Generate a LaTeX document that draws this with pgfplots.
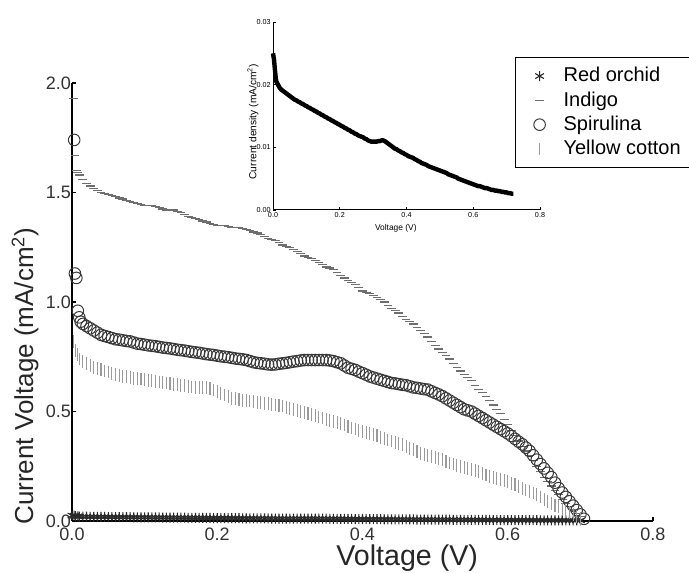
\documentclass[border=0pt]{standalone}
\usepackage{pgfplots}
\pgfplotsset{compat=1.18}
\usepackage{pgfplotstable}
\usepackage{fontspec}
\setmainfont{Liberation Sans}

\definecolor{indigoc}{HTML}{6E6E6E}
\definecolor{yellowc}{HTML}{9A9A9A}
\definecolor{spirc}{HTML}{383838}
\definecolor{redc}{HTML}{2A2A2A}

\pgfplotstableread{
v I
0.000 0.0250
0.003 0.0240
0.005 0.0228
0.008 0.0212
0.010 0.0205
0.015 0.0200
0.020 0.0195
0.025 0.0192
0.030 0.0190
0.035 0.0188
0.040 0.0186
0.045 0.0184
0.050 0.0182
0.055 0.0180
0.060 0.0178
0.065 0.0176
0.070 0.0175
0.075 0.0173
0.080 0.0172
0.085 0.0170
0.090 0.0169
0.095 0.0167
0.100 0.0166
0.105 0.0164
0.110 0.0163
0.115 0.0161
0.120 0.0160
0.125 0.0158
0.130 0.0157
0.135 0.0155
0.140 0.0154
0.145 0.0152
0.150 0.0151
0.155 0.0149
0.160 0.0148
0.165 0.0146
0.170 0.0145
0.175 0.0143
0.180 0.0142
0.185 0.0140
0.190 0.0139
0.195 0.0137
0.200 0.0136
0.205 0.0134
0.210 0.0133
0.215 0.0131
0.220 0.0130
0.225 0.0128
0.230 0.0127
0.235 0.0125
0.240 0.0124
0.245 0.0122
0.250 0.0121
0.255 0.0119
0.260 0.0118
0.265 0.0117
0.270 0.0116
0.275 0.0114
0.280 0.0113
0.285 0.0111
0.290 0.0110
0.295 0.0109
0.300 0.0109
0.305 0.0109
0.310 0.0109
0.315 0.0110
0.320 0.0110
0.325 0.0111
0.330 0.0111
0.335 0.0110
0.340 0.0108
0.345 0.0106
0.350 0.0104
0.355 0.0102
0.360 0.0100
0.365 0.0098
0.370 0.0097
0.375 0.0095
0.380 0.0094
0.385 0.0092
0.390 0.0091
0.395 0.0089
0.400 0.0088
0.405 0.0086
0.410 0.0085
0.415 0.0084
0.420 0.0083
0.425 0.0081
0.430 0.0080
0.435 0.0078
0.440 0.0077
0.445 0.0075
0.450 0.0074
0.455 0.0073
0.460 0.0072
0.465 0.0070
0.470 0.0069
0.475 0.0068
0.480 0.0067
0.485 0.0066
0.490 0.0065
0.495 0.0064
0.500 0.0063
0.505 0.0062
0.510 0.0061
0.515 0.0060
0.520 0.0059
0.525 0.0057
0.530 0.0056
0.535 0.0055
0.540 0.0054
0.545 0.0053
0.550 0.0052
0.555 0.0050
0.560 0.0049
0.565 0.0048
0.570 0.0047
0.575 0.0046
0.580 0.0045
0.585 0.0044
0.590 0.0043
0.595 0.0042
0.600 0.0041
0.605 0.0040
0.610 0.0039
0.615 0.0038
0.620 0.0038
0.625 0.0037
0.630 0.0036
0.635 0.0035
0.640 0.0035
0.645 0.0034
0.650 0.0033
0.655 0.0032
0.660 0.0032
0.665 0.0031
0.670 0.0031
0.675 0.0030
0.680 0.0030
0.685 0.0029
0.690 0.0029
0.695 0.0028
0.700 0.0028
0.705 0.0027
0.710 0.0027
0.715 0.0026
0.720 0.0026
}\redorchid

\pgfplotstableread{
v I
0.002 1.93
0.004 1.67
0.006 1.60
0.008 1.59
0.010 1.58
0.015 1.56
0.020 1.54
0.025 1.53
0.030 1.52
0.035 1.51
0.040 1.50
0.045 1.495
0.050 1.49
0.055 1.485
0.060 1.48
0.065 1.475
0.070 1.47
0.075 1.465
0.080 1.46
0.085 1.455
0.090 1.45
0.095 1.445
0.100 1.44
0.105 1.44
0.110 1.44
0.115 1.435
0.120 1.43
0.125 1.425
0.130 1.42
0.135 1.42
0.140 1.42
0.145 1.415
0.150 1.41
0.155 1.40
0.160 1.39
0.165 1.385
0.170 1.38
0.175 1.375
0.180 1.37
0.185 1.365
0.190 1.36
0.195 1.355
0.200 1.35
0.205 1.35
0.210 1.35
0.215 1.345
0.220 1.34
0.225 1.34
0.230 1.34
0.235 1.335
0.240 1.33
0.245 1.325
0.250 1.32
0.255 1.315
0.260 1.31
0.265 1.30
0.270 1.29
0.275 1.285
0.280 1.28
0.285 1.27
0.290 1.26
0.295 1.255
0.300 1.25
0.305 1.24
0.310 1.23
0.315 1.22
0.320 1.21
0.325 1.205
0.330 1.20
0.335 1.19
0.340 1.18
0.345 1.17
0.350 1.16
0.355 1.155
0.360 1.15
0.365 1.135
0.370 1.12
0.375 1.11
0.380 1.10
0.385 1.09
0.390 1.08
0.395 1.065
0.400 1.05
0.405 1.045
0.410 1.04
0.415 1.03
0.420 1.02
0.425 1.01
0.430 1.00
0.435 0.985
0.440 0.97
0.445 0.96
0.450 0.95
0.455 0.935
0.460 0.92
0.465 0.91
0.470 0.90
0.475 0.885
0.480 0.87
0.485 0.855
0.490 0.84
0.495 0.82
0.500 0.80
0.505 0.785
0.510 0.77
0.515 0.755
0.520 0.74
0.525 0.72
0.530 0.70
0.535 0.685
0.540 0.67
0.545 0.655
0.550 0.64
0.555 0.62
0.560 0.60
0.565 0.585
0.570 0.57
0.575 0.55
0.580 0.53
0.585 0.51
0.590 0.49
0.595 0.465
0.600 0.44
0.605 0.415
0.610 0.39
0.615 0.365
0.620 0.34
0.625 0.32
0.630 0.30
0.635 0.275
0.640 0.25
0.645 0.225
0.650 0.20
0.655 0.18
0.660 0.16
0.665 0.14
0.670 0.12
0.675 0.10
0.680 0.08
0.685 0.065
0.690 0.05
0.695 0.035
0.700 0.02
}\indigo

\pgfplotstableread{
v I
0.003 1.74
0.004 1.13
0.006 1.11
0.008 0.96
0.010 0.93
0.012 0.91
0.015 0.90
0.020 0.89
0.025 0.88
0.030 0.87
0.035 0.86
0.040 0.85
0.045 0.845
0.050 0.84
0.055 0.835
0.060 0.83
0.065 0.828
0.070 0.825
0.075 0.822
0.080 0.82
0.085 0.815
0.090 0.81
0.095 0.808
0.100 0.805
0.105 0.802
0.110 0.80
0.115 0.798
0.120 0.795
0.125 0.792
0.130 0.79
0.135 0.788
0.140 0.785
0.145 0.782
0.150 0.78
0.155 0.778
0.160 0.775
0.165 0.772
0.170 0.77
0.175 0.768
0.180 0.765
0.185 0.762
0.190 0.76
0.195 0.758
0.200 0.755
0.205 0.752
0.210 0.75
0.215 0.748
0.220 0.745
0.225 0.742
0.230 0.74
0.235 0.738
0.240 0.735
0.245 0.73
0.250 0.725
0.255 0.722
0.260 0.72
0.265 0.718
0.270 0.715
0.275 0.714
0.280 0.715
0.285 0.718
0.290 0.72
0.295 0.722
0.300 0.725
0.305 0.728
0.310 0.73
0.315 0.733
0.320 0.735
0.325 0.735
0.330 0.735
0.335 0.735
0.340 0.735
0.345 0.735
0.350 0.735
0.355 0.733
0.360 0.73
0.365 0.725
0.370 0.72
0.375 0.71
0.380 0.70
0.385 0.695
0.390 0.69
0.395 0.682
0.400 0.675
0.405 0.668
0.410 0.66
0.415 0.655
0.420 0.65
0.425 0.645
0.430 0.64
0.435 0.635
0.440 0.63
0.445 0.628
0.450 0.625
0.455 0.622
0.460 0.62
0.465 0.615
0.470 0.61
0.475 0.608
0.480 0.605
0.485 0.602
0.490 0.60
0.495 0.592
0.500 0.585
0.505 0.578
0.510 0.57
0.515 0.56
0.520 0.55
0.525 0.54
0.530 0.53
0.535 0.52
0.540 0.51
0.545 0.505
0.550 0.50
0.555 0.49
0.560 0.48
0.565 0.47
0.570 0.46
0.575 0.45
0.580 0.44
0.585 0.43
0.590 0.42
0.595 0.41
0.600 0.40
0.605 0.388
0.610 0.375
0.615 0.362
0.620 0.35
0.625 0.335
0.630 0.32
0.635 0.30
0.640 0.28
0.645 0.26
0.650 0.24
0.655 0.22
0.660 0.20
0.665 0.175
0.670 0.15
0.675 0.13
0.680 0.11
0.685 0.09
0.690 0.07
0.695 0.05
0.700 0.03
0.705 0.01
}\spirulina

\pgfplotstableread{
v I
0.002 0.82
0.005 0.78
0.008 0.76
0.010 0.74
0.015 0.73
0.020 0.72
0.025 0.71
0.030 0.70
0.035 0.695
0.040 0.69
0.045 0.685
0.050 0.68
0.055 0.675
0.060 0.67
0.065 0.665
0.070 0.66
0.075 0.658
0.080 0.655
0.085 0.652
0.090 0.65
0.095 0.648
0.100 0.645
0.105 0.642
0.110 0.64
0.115 0.638
0.120 0.635
0.125 0.632
0.130 0.63
0.135 0.628
0.140 0.625
0.145 0.622
0.150 0.62
0.155 0.618
0.160 0.615
0.165 0.612
0.170 0.61
0.175 0.61
0.180 0.61
0.185 0.608
0.190 0.605
0.195 0.598
0.200 0.59
0.205 0.582
0.210 0.575
0.215 0.568
0.220 0.56
0.225 0.558
0.230 0.555
0.235 0.552
0.240 0.55
0.245 0.548
0.250 0.545
0.255 0.542
0.260 0.54
0.265 0.538
0.270 0.535
0.275 0.532
0.280 0.53
0.285 0.528
0.290 0.525
0.295 0.52
0.300 0.515
0.305 0.51
0.310 0.505
0.315 0.50
0.320 0.495
0.325 0.49
0.330 0.485
0.335 0.48
0.340 0.475
0.345 0.47
0.350 0.465
0.355 0.46
0.360 0.455
0.365 0.45
0.370 0.445
0.375 0.438
0.380 0.43
0.385 0.425
0.390 0.42
0.395 0.415
0.400 0.41
0.405 0.405
0.410 0.40
0.415 0.395
0.420 0.39
0.425 0.382
0.430 0.375
0.435 0.37
0.440 0.365
0.445 0.36
0.450 0.355
0.455 0.348
0.460 0.34
0.465 0.332
0.470 0.325
0.475 0.318
0.480 0.31
0.485 0.305
0.490 0.30
0.495 0.295
0.500 0.29
0.505 0.285
0.510 0.28
0.515 0.272
0.520 0.265
0.525 0.26
0.530 0.255
0.535 0.25
0.540 0.245
0.545 0.24
0.550 0.235
0.555 0.23
0.560 0.225
0.565 0.218
0.570 0.21
0.575 0.205
0.580 0.20
0.585 0.195
0.590 0.19
0.595 0.185
0.600 0.18
0.605 0.172
0.610 0.165
0.615 0.158
0.620 0.15
0.625 0.142
0.630 0.135
0.635 0.128
0.640 0.12
0.645 0.11
0.650 0.10
0.655 0.09
0.660 0.08
0.665 0.072
0.670 0.065
0.675 0.055
0.680 0.045
0.685 0.038
0.690 0.03
0.695 0.02
0.700 0.01
}\yellowcotton

\begin{document}
\begin{tikzpicture}
\path[use as bounding box] (-36pt,-25.5pt) rectangle (308.5pt,260.5pt);
\begin{axis}[
  at={(0pt,0pt)}, anchor=south west,
  scale only axis, width=290.5pt, height=219pt,
  xmin=0, xmax=0.8, ymin=0, ymax=2.0,
  axis x line=bottom, axis y line=left,
  axis line style={-, line width=0.8pt},
  xtick={0,0.2,0.4,0.6,0.8}, ytick={0,0.5,1.0,1.5,2.0},
  tick align=inside, major tick length=2pt,
  tick style={line width=0.6pt, black},
  /pgf/number format/assume math mode=true,
  tick label style={font=\fontsize{9}{10}\selectfont, text=black!80},
  xticklabel style={/pgf/number format/.cd, fixed, fixed zerofill, precision=1},
  yticklabel style={xshift=3pt, /pgf/number format/.cd, fixed, fixed zerofill, precision=1},
  xlabel={Voltage (V)},
  ylabel={Current Voltage (mA/cm\textsuperscript{2})},
  every axis x label/.style={at={(rel axis cs:0.577,0)}, anchor=center, yshift=-18.5pt,
    font=\fontsize{14.3}{16}\selectfont, text=black!85},
  every axis y label/.style={at={(rel axis cs:0,0.331)}, xshift=-23.5pt, rotate=90, anchor=center,
    font=\fontsize{13}{15}\selectfont, text=black!85},
  legend style={at={(rel axis cs:0.7625,1.06)}, anchor=north west, draw=black, line width=0.6pt,
    font=\fontsize{10}{11.5}\selectfont, row sep=-0.6pt, inner xsep=3pt, inner ysep=3pt},
  legend cell align=left,
  myleg/.style={legend image code/.code={\path[draw=none, fill=none] (0pt,0pt) -- (19pt,0pt); \draw[##1, only marks] plot coordinates {(9pt,0pt)};}},
  clip=false,
]
\addplot[only marks, myleg, mark=asterisk, mark size=2.5pt, redc, mark options={line width=0.55pt},
  restrict x to domain=0:0.70] table[x=v,y=I] {\redorchid};
\addlegendentry{Red orchid}
\addplot[only marks, myleg, mark=-, mark size=2.2pt, indigoc, mark options={line width=0.6pt}] table[x=v,y=I] {\indigo};
\addlegendentry{Indigo}
\addplot[only marks, myleg, mark=o, mark size=2.9pt, spirc, mark options={line width=0.5pt}] table[x=v,y=I] {\spirulina};
\addlegendentry{Spirulina}
\addplot[only marks, myleg, mark=|, mark size=3.2pt, yellowc, mark options={line width=0.55pt}] table[x=v,y=I] {\yellowcotton};
\addlegendentry{Yellow cotton\hspace{6pt}}
\end{axis}

\begin{axis}[
  at={(100.5pt,155.5pt)}, anchor=south west,
  scale only axis, width=133.5pt, height=94pt,
  xmin=0, xmax=0.8, ymin=0, ymax=0.03,
  axis x line=bottom, axis y line=left,
  axis line style={-, line width=0.5pt},
  xtick={0,0.2,0.4,0.6,0.8}, ytick={0,0.01,0.02,0.03},
  scaled y ticks=false,
  tick align=inside, major tick length=1.5pt,
  tick style={line width=0.4pt, black},
  /pgf/number format/assume math mode=true,
  tick label style={font=\fontsize{3.6}{4}\selectfont, inner sep=1pt},
  xticklabel style={/pgf/number format/.cd, fixed, fixed zerofill, precision=1},
  yticklabel style={/pgf/number format/.cd, fixed, fixed zerofill, precision=2},
  xlabel={Voltage (V)},
  ylabel={Current density (mA/cm\textsuperscript{2})},
  every axis x label/.style={at={(rel axis cs:0.46,0)}, anchor=center, yshift=-9pt,
    font=\fontsize{4.2}{5}\selectfont},
  every axis y label/.style={at={(rel axis cs:0,0.47)}, xshift=-10pt, rotate=90, anchor=center,
    font=\fontsize{5.1}{6}\selectfont},
  clip=false,
]
\addplot[black, line width=2.2pt, mark=none] table[x=v,y=I] {\redorchid};
\end{axis}
\end{tikzpicture}
\end{document}
